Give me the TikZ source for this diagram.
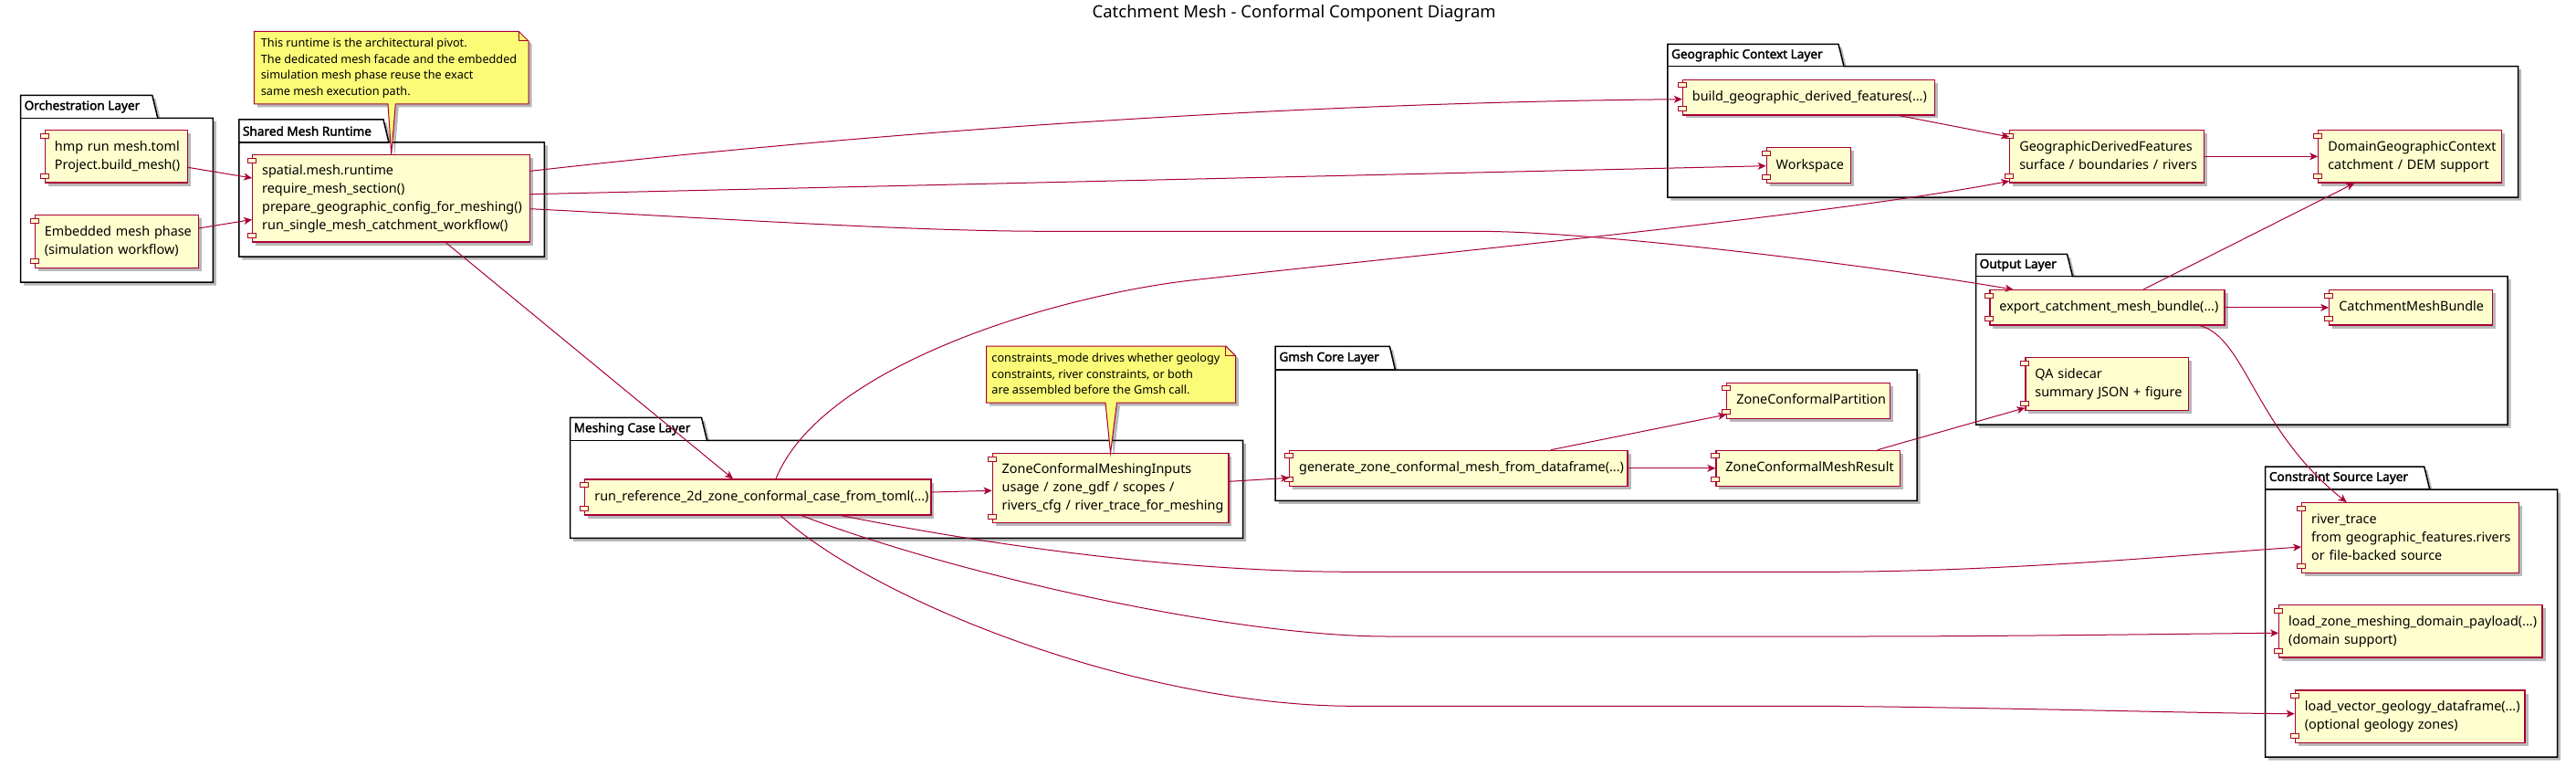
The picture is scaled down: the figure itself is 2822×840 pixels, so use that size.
\documentclass[tikz,border=0pt]{standalone}
\usepackage{fontspec}
\setmainfont{Noto Sans}
\newfontfamily\lblfont{Noto Sans}[FakeBold=2.2]
\usetikzlibrary{arrows.meta,shadows,calc}
\definecolor{compfill}{HTML}{FEFECE}
\definecolor{plred}{HTML}{A80036}
\definecolor{notefill}{HTML}{FBFB77}
\newcommand{\mylines}[1]{\begin{tabular}{@{}l@{}}#1\end{tabular}}
\tikzset{
  myshadow/.style={drop shadow={shadow xshift=3.5pt,shadow yshift=-3.5pt,opacity=0.28,fill=black}},
  comp/.style={draw=plred, fill=compfill, line width=1.2pt, inner xsep=10.5pt, inner ysep=0pt,
    align=left, font=\fontsize{14.4}{20}\selectfont, myshadow},
  compport/.style={draw=plred, fill=compfill, line width=1.1pt},
  frameline/.style={draw=black, fill=white, line width=1.5pt, myshadow},
  framelabel/.style={font=\lblfont\fontsize{13.6}{16}\selectfont, inner sep=0pt},
  notebox/.style={draw=plred, fill=notefill, line width=1pt},
  notetext/.style={font=\fontsize{12.7}{17.6}\selectfont, inner sep=0pt, align=left},
  conn/.style={draw=plred, line width=1pt, -{Stealth[length=9pt,width=8pt,inset=2.5pt]}},
}
\newcommand{\compnode}[6]{%
  \pgfmathsetmacro\mycw{#4-#2}\pgfmathsetmacro\mych{#5-#3}\pgfmathsetmacro\mytw{#4-#2-21}%
  \node[comp, minimum width=\mycw pt, minimum height=\mych pt, text width=\mytw pt]
    (#1) at ({(#2+#4)/2},{(#3+#5)/2}) {\mylines{#6}};
  \draw[compport] ($(#1.north west)+(-4.5,4)$) rectangle ++(9,5);
  \draw[compport] ($(#1.south west)+(-4.5,-10)$) rectangle ++(9,5);
}
\newcommand{\frameblk}[8]{%
  \path[frameline] (#2,#3) -- ({#4-6},#3) -- (#4,#5) -- (#6,#5) -- (#6,#7) -- (#2,#7) -- cycle;
  \draw[line width=1.5pt] (#2,#5) -- (#4,#5);
  \node[framelabel, anchor=west] (#1) at ({#2+4},{(#3+#5)/2}) {#8};
}
\begin{document}
\begin{tikzpicture}[x=1pt,y=-1pt]
\fill[white] (0,0) rectangle (2822,840);
\useasboundingbox (0,0) rectangle (2822,840);

\node[font=\fontsize{18.5}{22}\selectfont, anchor=base, inner sep=0pt] (title) at (1417.7,19.5) {Catchment Mesh - Conformal Component Diagram};

% frames
\frameblk{orchlbl}{22.5}{104.3}{172.8}{129.3}{233.3}{309}{Orchestration Layer}
\frameblk{sharedlbl}{261.8}{131}{426}{156}{596.3}{281}{Shared Mesh Runtime}
\frameblk{geolbl}{1826.8}{48.3}{2020}{72.7}{2758.5}{216}{Geographic Context Layer}
\frameblk{outlbl}{2164.5}{278.3}{2270.5}{302.7}{2747}{465}{Output Layer}
\frameblk{meshlbl}{624.5}{457.3}{774.5}{482.3}{1361.7}{589.3}{Meshing Case Layer}
\frameblk{gmshlbl}{1397.2}{379.3}{1528.4}{405}{2100.2}{548.3}{Gmsh Core Layer}
\frameblk{conslbl}{2481.7}{511}{2661.7}{536}{2801.7}{829}{Constraint Source Layer}

% components
\compnode{hmp}{49.4}{142.7}{205.2}{200}{hmp run mesh.toml\\Project.build\_mesh()}
\compnode{emb}{38.4}{235.7}{217.1}{293.3}{Embedded mesh phase\\(simulation workflow)}
\compnode{runtime}{276.7}{169.7}{580.7}{265}{spatial.mesh.runtime\\require\_mesh\_section()\\prepare\_geographic\_config\_for\_meshing()\\run\_single\_mesh\_catchment\_workflow()}
\compnode{bgdf}{1843.4}{87.3}{2119.5}{126}{build\_geographic\_derived\_features(...)}
\compnode{ws}{1935.2}{161.7}{2027.7}{200.7}{Workspace}
\compnode{gdf}{2201.8}{142.7}{2414.2}{200}{GeographicDerivedFeatures\\surface / boundaries / rivers}
\compnode{dgc}{2539.8}{142.7}{2740.7}{200}{DomainGeographicContext\\catchment / DEM support}
\compnode{export}{2179.9}{317.7}{2437}{356}{export\_catchment\_mesh\_bundle(...)}
\compnode{cmb}{2551.8}{317.7}{2730.6}{356}{CatchmentMeshBundle}
\compnode{qa}{2218.9}{391.7}{2397.6}{449.3}{QA sidecar\\summary JSON + figure}
\compnode{runref}{640.8}{525}{1019.9}{564}{run\_reference\_2d\_zone\_conformal\_case\_from\_toml(...)}
\compnode{zcmi}{1087.2}{496.7}{1345.9}{572.7}{ZoneConformalMeshingInputs\\usage / zone\_gdf / scopes /\\rivers\_cfg / river\_trace\_for\_meshing}
\compnode{gen}{1412.7}{493.3}{1783}{532.3}{generate\_zone\_conformal\_mesh\_from\_dataframe(...)}
\compnode{zcp}{1891.8}{419.3}{2070.7}{458.3}{ZoneConformalPartition}
\compnode{zcmr}{1879.9}{493.3}{2081.2}{532.3}{ZoneConformalMeshResult}
\compnode{rt}{2521.7}{550.7}{2759.3}{627.3}{river\_trace\\from geographic\_features.rivers\\or file-backed source}
\compnode{lzm}{2496.7}{662.7}{2785}{720}{load\_zone\_meshing\_domain\_payload(...)\\(domain support)}
\compnode{lvg}{2514.3}{756}{2766}{813.3}{load\_vector\_geology\_dataframe(...)\\(optional geology zones)}

% notes
\path[notebox, myshadow] (278.3,34.3) -- (568.3,34.3) -- (579,45) -- (579,114) -- (433.3,114) -- (runtime.north) -- (425,114) -- (278.3,114) -- cycle;
\draw[notebox, fill=none] (568.3,34.3) -- (568.3,45) -- (579,45);
\node[notetext, anchor=west] (note1) at (285.7,74.65) {\mylines{This runtime is the architectural pivot.\\The dedicated mesh facade and the embedded\\simulation mesh phase reuse the exact\\same mesh execution path.}};

\path[notebox, myshadow] (1080.6,379) -- (1342.9,379) -- (1353.6,389.7) -- (1353.6,441) -- (1223.5,441) -- (zcmi.north) -- (1211,441) -- (1080.6,441) -- cycle;
\draw[notebox, fill=none] (1342.9,379) -- (1342.9,389.7) -- (1353.6,389.7);
\node[notetext, anchor=west] (note2) at (1086.2,410.5) {\mylines{constraints\_mode drives whether geology\\constraints, river constraints, or both\\are assembled before the Gmsh call.}};

% connectors
\draw[conn] (hmp.east |- 0,183.3) -- (runtime.west |- 0,195);
\draw[conn] (emb.east |- 0,250) -- (runtime.west |- 0,240.5);
\draw[conn] (runtime.east |- 0,187.3) .. controls (1000,140) and (1450,112) .. (bgdf.west |- 0,108.7);
\draw[conn] (runtime.east |- 0,212.7) -- (ws.west |- 0,181.7);
\draw[conn] (runtime.east |- 0,228.7) .. controls (800,240) and (1000,253.3) .. (1148,253.3) -- (1618,253.3) .. controls (1750,253.3) and (2055.5,291.3) .. (export.north -| 2205.5,0);
\draw[conn] (runtime.south -| 488.3,0) -- (runref.north -| 803,0);
\draw[conn] (bgdf.south -| 2080.6,0) -- (gdf.west |- 0,150);
\draw[conn] (gdf) -- (dgc);
\draw[conn] (runref.north -| 850,0) .. controls (900,400) and (1157.5,323.5) .. (1307.5,306.7) .. controls (1557.5,278.7) and (2001.8,236.3) .. (gdf.west |- 0,198.3);
\draw[conn] (export.north -| 2347.9,0) -- (dgc.south -| 2579.3,0);
\draw[conn] (export) -- (cmb);
\draw[conn] (export.south -| 2410,0) .. controls (2460,370) and (2470,470) .. (rt.north -| 2570.7,0);
\draw[conn] (zcmr.north -| 2056.7,0) -- (qa.west |- 0,446.7);
\draw[conn] (runref.east |- 0,539) -- (zcmi.west |- 0,537.3);
\draw[conn] (zcmi.east |- 0,527.3) -- (gen.west |- 0,523.3);
\draw[conn] (gen.north -| 1698.9,0) -- (zcp.west |- 0,454);
\draw[conn] (gen) -- (zcmr);
\draw[conn] (runref.south -| 921.4,0) .. controls (1100,600) and (1300,626.3) .. (1483,626.3) -- (1997,626.3) .. controls (2200,626.3) and (2400,607) .. (rt.west |- 0,599);
\draw[conn] (runref.south -| 878,0) .. controls (1050,630) and (1350,697) .. (1520,697) -- (2033,697) .. controls (2200,697) and (2400,694) .. (lzm.west |- 0,693.3);
\draw[conn] (runref.south -| 855,0) .. controls (960,660) and (1250,773.3) .. (1483,773.3) -- (1997,773.3) .. controls (2200,775) and (2400,781) .. (lvg.west |- 0,781.7);
\end{tikzpicture}
\end{document}
